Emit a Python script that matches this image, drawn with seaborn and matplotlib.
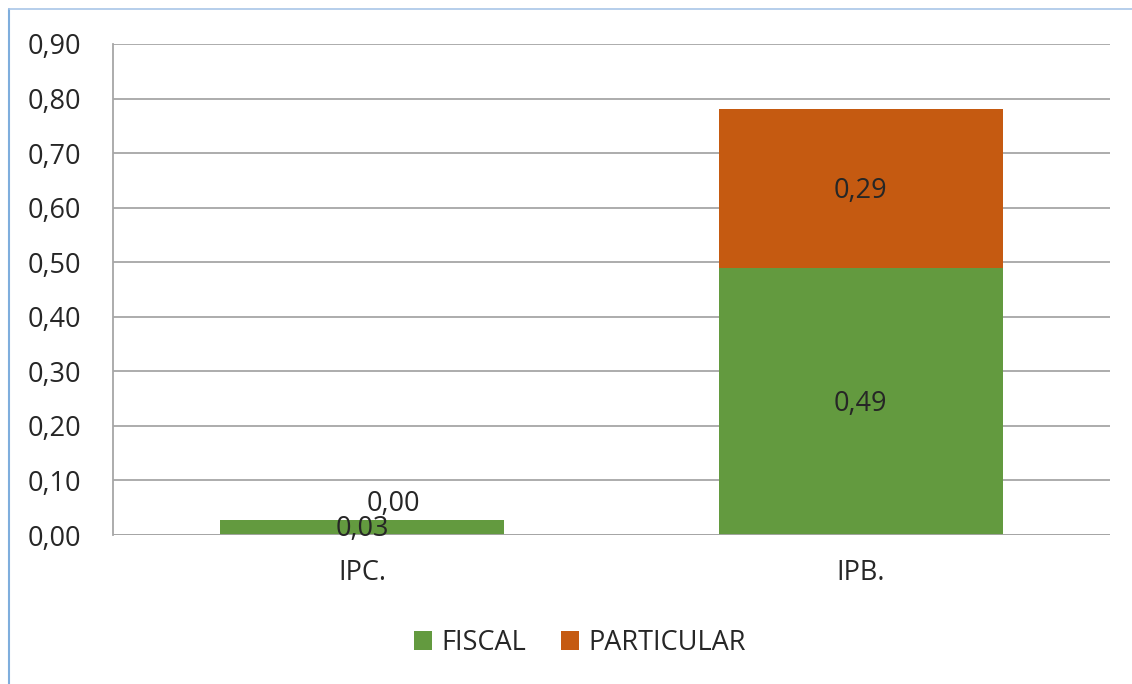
import matplotlib
matplotlib.use("Agg")
import matplotlib.pyplot as plt
import seaborn as sns
import pandas as pd
from matplotlib.patches import Patch
from matplotlib.lines import Line2D

categories = ["IPC.", "IPB."]
fiscal = [0.027, 0.49]
particular = [0.00, 0.29]
fiscal_labels = ["0,03", "0,49"]
particular_labels = ["0,00", "0,29"]
yticks = [0.0, 0.1, 0.2, 0.3, 0.4, 0.5, 0.6, 0.7, 0.8, 0.9]
ytick_labels = ["0,00", "0,10", "0,20", "0,30", "0,40", "0,50", "0,60", "0,70", "0,80", "0,90"]

green = "#639A3F"
orange = "#C55A11"
grid_c = "#A6A6A6"
text_c = "#262626"
FS = 19.5

sns.set_style("white")
plt.rcParams['font.family'] = ['Open Sans', 'DejaVu Sans']

W, H = 1132, 684
fig = plt.figure(figsize=(W / 100, H / 100), dpi=100)
ax = fig.add_axes([113 / W, (H - 535) / H, (1110 - 113) / W, (535 - 44) / H])

df = pd.DataFrame({"cat": categories, "fiscal": fiscal, "particular": particular})
df["total"] = df["fiscal"] + df["particular"]

sns.barplot(data=df, x="cat", y="total", color=orange, saturation=1, width=0.57, ax=ax,
            zorder=3, linewidth=0, edgecolor="none")
sns.barplot(data=df, x="cat", y="fiscal", color=green, saturation=1, width=0.57, ax=ax,
            zorder=4, linewidth=0, edgecolor="none")

ax.set_xlim(-0.5, 1.5)
ax.set_ylim(0, 0.9)
ax.set_yticks(yticks)
ax.set_yticklabels(ytick_labels)
ax.set_xlabel("")
ax.set_ylabel("")
ax.tick_params(axis="both", length=0, labelsize=FS, colors=text_c)
ax.tick_params(axis="y", pad=23)
ax.tick_params(axis="x", pad=17)

ax.yaxis.grid(True, color=grid_c, linewidth=1.3, zorder=0)
ax.set_axisbelow(True)
for s in ["top", "right", "bottom"]:
    ax.spines[s].set_visible(False)
ax.spines["left"].set_color(grid_c)
ax.spines["left"].set_linewidth(1.3)
ax.axhline(0, color=grid_c, linewidth=1.3, zorder=5)

for i in range(len(categories)):
    f = fiscal[i]
    p = particular[i]
    if i == 0:
        ax.text(i, 0.011, fiscal_labels[i], ha="center", va="center", fontsize=FS, color=text_c, zorder=6)
        ax.text(i + 0.062, 0.057, particular_labels[i], ha="center", va="center", fontsize=FS, color=text_c, zorder=6)
    else:
        ax.text(i, f / 2 - 0.004, fiscal_labels[i], ha="center", va="center", fontsize=FS, color=text_c, zorder=6)
        ax.text(i, f + p / 2 - 0.004, particular_labels[i], ha="center", va="center", fontsize=FS, color=text_c, zorder=6)

handles = [Patch(facecolor=green, edgecolor="none", label="FISCAL"),
           Patch(facecolor=orange, edgecolor="none", label="PARTICULAR")]
fig.legend(handles=handles, loc="center", bbox_to_anchor=(580 / W, 1 - 643 / H), ncol=2,
           frameon=False, fontsize=FS, handlelength=0.65, handleheight=0.65,
           handletextpad=0.35, columnspacing=1.3, labelcolor=text_c)

# outer frame (light blue) at left and top
fig.add_artist(Line2D([8.5 / W, 8.5 / W], [0, 1 - 9 / H], color="#7FAEDD", linewidth=1.5, transform=fig.transFigure))
fig.add_artist(Line2D([8.5 / W, 1], [1 - 9 / H, 1 - 9 / H], color="#A9C6E8", linewidth=1.2, transform=fig.transFigure))

fig.savefig("out.png", dpi=100)
